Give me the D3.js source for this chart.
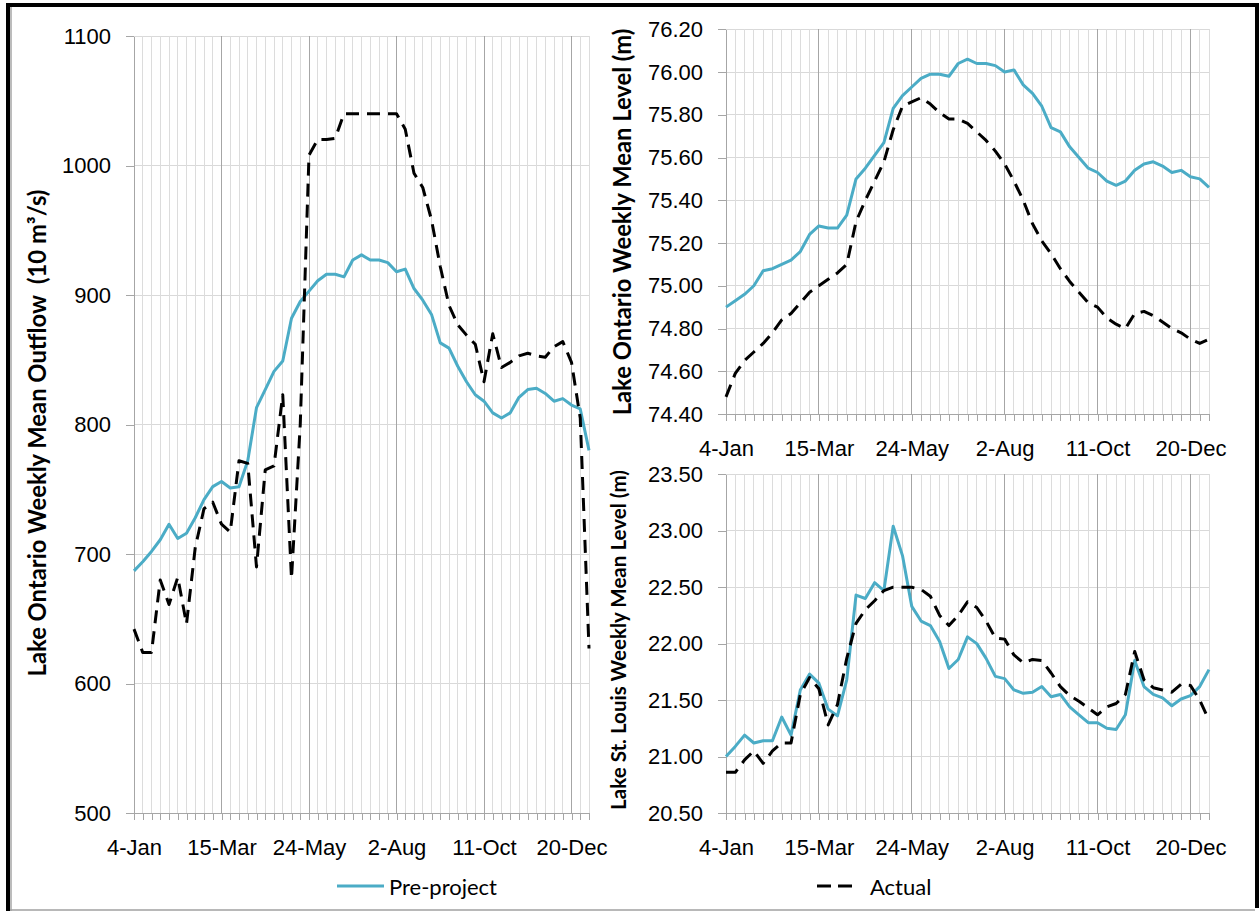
<!DOCTYPE html>
<html>
<head>
<meta charset="utf-8">
<script src="https://cdn.jsdelivr.net/npm/d3@7"></script>
<style>
  html, body { margin: 0; padding: 0; background: #fff; }
  svg { display: block; font-family: Lato, "Open Sans", "Noto Sans", sans-serif; }
</style>
</head>
<body>
<svg id="chart" width="1259" height="911"></svg>
<script>
// ---- Weekly categories (week starting 4-Jan) ----
const startDate = new Date(1999, 0, 4);
const weeks = d3.range(53).map(i => d3.timeDay.offset(startDate, 7 * i));
const tickWeeks = [0, 10, 20, 30, 40, 50];
const tickLabels = ["4-Jan", "15-Mar", "24-May", "2-Aug", "11-Oct", "20-Dec"];

// ---- Lake Ontario weekly mean outflow (10 m3/s) ----
const outflowTicks = [500, 600, 700, 800, 900, 1000, 1100];
const outflowPre = [
  687, 694, 702, 711, 723, 712, 716, 728, 742, 752,
  756, 751, 752, 772, 813, 827, 841, 849, 882, 895,
  903, 911, 916, 916, 914, 927, 931, 927, 927, 925,
  918, 920, 905, 896, 885, 863, 859, 845, 833, 823,
  818, 809, 805, 809, 821, 827, 828, 824, 818, 820,
  815, 812, 780
];
const outflowActual = [
  642, 624, 624, 680, 661, 682, 646, 705, 735, 740,
  723, 717, 772, 770, 690, 765, 768, 823, 681, 800,
  1008, 1020, 1020, 1021, 1040, 1040, 1040, 1040, 1040, 1040,
  1040, 1028, 994, 983, 958, 922, 892, 877, 869, 862,
  833, 870, 844, 848, 853, 855, 853, 852, 860, 864,
  848, 805, 627
];

// ---- Lake Ontario weekly mean level (m) ----
const ontarioTicks = [74.4, 74.6, 74.8, 75.0, 75.2, 75.4, 75.6, 75.8, 76.0, 76.2];
const ontarioPre = [
  74.90, 74.93, 74.96, 75.00, 75.07, 75.08, 75.10, 75.12, 75.16, 75.24,
  75.28, 75.27, 75.27, 75.33, 75.50, 75.55, 75.61, 75.67, 75.83, 75.89,
  75.93, 75.97, 75.99, 75.99, 75.98, 76.04, 76.06, 76.04, 76.04, 76.03,
  76.00, 76.01, 75.94, 75.90, 75.84, 75.74, 75.72, 75.65, 75.60, 75.55,
  75.53, 75.49, 75.47, 75.49, 75.54, 75.57, 75.58, 75.56, 75.53, 75.54,
  75.51, 75.50, 75.46
];
const ontarioActual = [
  74.48, 74.59, 74.65, 74.69, 74.73, 74.78, 74.84, 74.87, 74.92, 74.97,
  75.00, 75.03, 75.06, 75.10, 75.30, 75.40, 75.49, 75.58, 75.73, 75.84,
  75.86, 75.88, 75.85, 75.81, 75.78, 75.78, 75.76, 75.72, 75.68, 75.63,
  75.57, 75.49, 75.40, 75.29, 75.21, 75.15, 75.08, 75.02, 74.97, 74.92,
  74.90, 74.85, 74.82, 74.80, 74.87, 74.88, 74.86, 74.83, 74.80, 74.78,
  74.75, 74.73, 74.75
];

// ---- Lake St. Louis weekly mean level (m) ----
const stLouisTicks = [20.5, 21.0, 21.5, 22.0, 22.5, 23.0, 23.5];
const stLouisPre = [
  21.00, 21.09, 21.19, 21.12, 21.14, 21.14, 21.35, 21.19, 21.59, 21.73,
  21.65, 21.42, 21.36, 21.68, 22.43, 22.40, 22.54, 22.47, 23.04, 22.78,
  22.33, 22.20, 22.16, 22.02, 21.78, 21.86, 22.06, 22.00, 21.87, 21.71,
  21.69, 21.59, 21.56, 21.57, 21.62, 21.53, 21.55, 21.44, 21.37, 21.30,
  21.30, 21.25, 21.24, 21.37, 21.85, 21.62, 21.55, 21.52, 21.45, 21.51,
  21.54, 21.62, 21.77
];
const stLouisActual = [
  20.86, 20.86, 20.97, 21.05, 20.94, 21.05, 21.12, 21.12, 21.55, 21.70,
  21.60, 21.28, 21.46, 21.87, 22.18, 22.30, 22.38, 22.47, 22.50, 22.50,
  22.50, 22.48, 22.42, 22.25, 22.16, 22.25, 22.37, 22.32, 22.20, 22.05,
  22.04, 21.90, 21.83, 21.86, 21.85, 21.74, 21.62, 21.54, 21.49, 21.43,
  21.37, 21.44, 21.47, 21.55, 21.93, 21.68, 21.61, 21.59, 21.57, 21.64,
  21.63, 21.50, 21.32
];

const seriesNames = ["Pre-project", "Actual"];

// ---- Styling ----
const BLUE = "#4bacc6";
const GRID = "#d9d9d9";
const MAJOR = "#a6a6a6";
const AXIS = "#a6a6a6";
const DASH = "13,8";
const TICK_FONT = 22;

const svg = d3.select("#chart");
svg.append("rect").attr("width", 1259).attr("height", 911).attr("fill", "#fff");

const panels = [
  { x0: 134, x1: 589, y0: 36, y1: 813, domain: [500, 1100], ticks: outflowTicks,
    fmt: d3.format("d"), pre: outflowPre, act: outflowActual,
    title: "Lake Ontario Weekly Mean Outflow  (10 m\u00B3/s)", tx: 37, ty: 433, tlen: 487 },
  { x0: 726, x1: 1209, y0: 29.3, y1: 414, domain: [74.4, 76.2], ticks: ontarioTicks,
    fmt: d3.format(".2f"), pre: ontarioPre, act: ontarioActual,
    title: "Lake Ontario Weekly Mean Level (m)", tx: 622, ty: 222, tlen: 387 },
  { x0: 726, x1: 1209, y0: 474.3, y1: 813, domain: [20.5, 23.5], ticks: stLouisTicks,
    fmt: d3.format(".2f"), pre: stLouisPre, act: stLouisActual,
    title: "Lake St. Louis Weekly Mean Level (m)", tx: 618, ty: 640, tlen: 340 }
];

const labelOf = new Map(tickWeeks.map((w, i) => [w, tickLabels[i]]));

panels.forEach(p => {
  const g = svg.append("g");
  const x = d3.scalePoint().domain(d3.range(weeks.length)).range([p.x0, p.x1]);
  const y = d3.scaleLinear().domain(p.domain).range([p.y1, p.y0]);

  // horizontal gridlines
  g.append("g").selectAll("line").data(p.ticks.slice(1)).join("line")
    .attr("x1", p.x0).attr("x2", p.x1)
    .attr("y1", d => y(d)).attr("y2", d => y(d))
    .attr("stroke", GRID).attr("stroke-width", 1)
    .attr("shape-rendering", "crispEdges");

  // weekly vertical gridlines, darker every ten weeks
  g.append("g").selectAll("line").data(d3.range(1, weeks.length)).join("line")
    .attr("x1", d => x(d)).attr("x2", d => x(d))
    .attr("y1", p.y0).attr("y2", p.y1)
    .attr("stroke", d => labelOf.has(d) ? MAJOR : "#dcdcdc").attr("stroke-width", 1)
    .attr("shape-rendering", "crispEdges");

  // y axis
  const ya = g.append("g").attr("transform", `translate(${p.x0},0)`)
    .call(d3.axisLeft(y).tickValues(p.ticks).tickFormat(p.fmt)
      .tickSize(8).tickSizeOuter(0).tickPadding(15));
  ya.select(".domain").attr("stroke", AXIS).attr("shape-rendering", "crispEdges");
  ya.selectAll(".tick line").attr("stroke", AXIS).attr("shape-rendering", "crispEdges");
  ya.selectAll(".tick text").attr("font-size", TICK_FONT).attr("fill", "#000")
    .attr("font-family", null);

  // x axis
  const xa = g.append("g").attr("transform", `translate(0,${p.y1})`)
    .call(d3.axisBottom(x).tickValues(d3.range(weeks.length))
      .tickFormat(i => labelOf.get(i) || "").tickSize(7).tickSizeOuter(0));
  xa.select(".domain").attr("stroke", AXIS).attr("shape-rendering", "crispEdges");
  xa.selectAll(".tick line").attr("stroke", AXIS).attr("shape-rendering", "crispEdges");
  xa.selectAll(".tick text").attr("font-size", TICK_FONT).attr("fill", "#000")
    .attr("font-family", null).attr("y", 34).attr("dy", "0.35em");

  // series lines
  const line = d3.line().x((d, i) => x(i)).y(d => y(d));
  g.append("path").datum(p.pre).attr("d", line)
    .attr("fill", "none").attr("stroke", BLUE).attr("stroke-width", 3)
    .attr("stroke-linejoin", "round");
  g.append("path").datum(p.act).attr("d", line)
    .attr("fill", "none").attr("stroke", "#000").attr("stroke-width", 3)
    .attr("stroke-dasharray", DASH).attr("stroke-linejoin", "round");

  // rotated axis title, sized to its span
  const t = svg.append("text")
    .attr("transform", `translate(${p.tx},${p.ty}) rotate(-90)`)
    .attr("text-anchor", "middle").attr("dominant-baseline", "central")
    .attr("font-weight", "bold").attr("font-size", 20).attr("fill", "#000")
    .style("white-space", "pre")
    .text(p.title);
  const len = t.node().getComputedTextLength();
  if (len > 0) t.attr("font-size", 20 * p.tlen / len);
});

// ---- Legend ----
const leg = svg.append("g").attr("font-size", TICK_FONT).attr("fill", "#000");
leg.append("line").attr("x1", 337).attr("x2", 384).attr("y1", 886).attr("y2", 886)
  .attr("stroke", BLUE).attr("stroke-width", 3);
leg.append("text").attr("x", 389).attr("y", 886).attr("dominant-baseline", "central")
  .text(seriesNames[0]);
leg.append("line").attr("x1", 817).attr("x2", 852).attr("y1", 886).attr("y2", 886)
  .attr("stroke", "#000").attr("stroke-width", 3).attr("stroke-dasharray", "14,7");
leg.append("text").attr("x", 870).attr("y", 886).attr("dominant-baseline", "central")
  .text(seriesNames[1]);

// ---- Frame ----
const frame = svg.append("g");
frame.append("rect").attr("x", 6).attr("y", 3).attr("width", 1253).attr("height", 4).attr("fill", "#000");
frame.append("rect").attr("x", 6).attr("y", 3).attr("width", 4).attr("height", 908).attr("fill", "#000");
frame.append("rect").attr("x", 1255).attr("y", 3).attr("width", 4).attr("height", 905).attr("fill", "#000");
frame.append("line").attr("x1", 11).attr("x2", 11).attr("y1", 7).attr("y2", 911)
  .attr("stroke", "#a6a6a6").attr("stroke-width", 1.5);
frame.append("line").attr("x1", 10).attr("x2", 1255).attr("y1", 910).attr("y2", 910)
  .attr("stroke", "#a0a0a0").attr("stroke-width", 1.5);
</script>
</body>
</html>
